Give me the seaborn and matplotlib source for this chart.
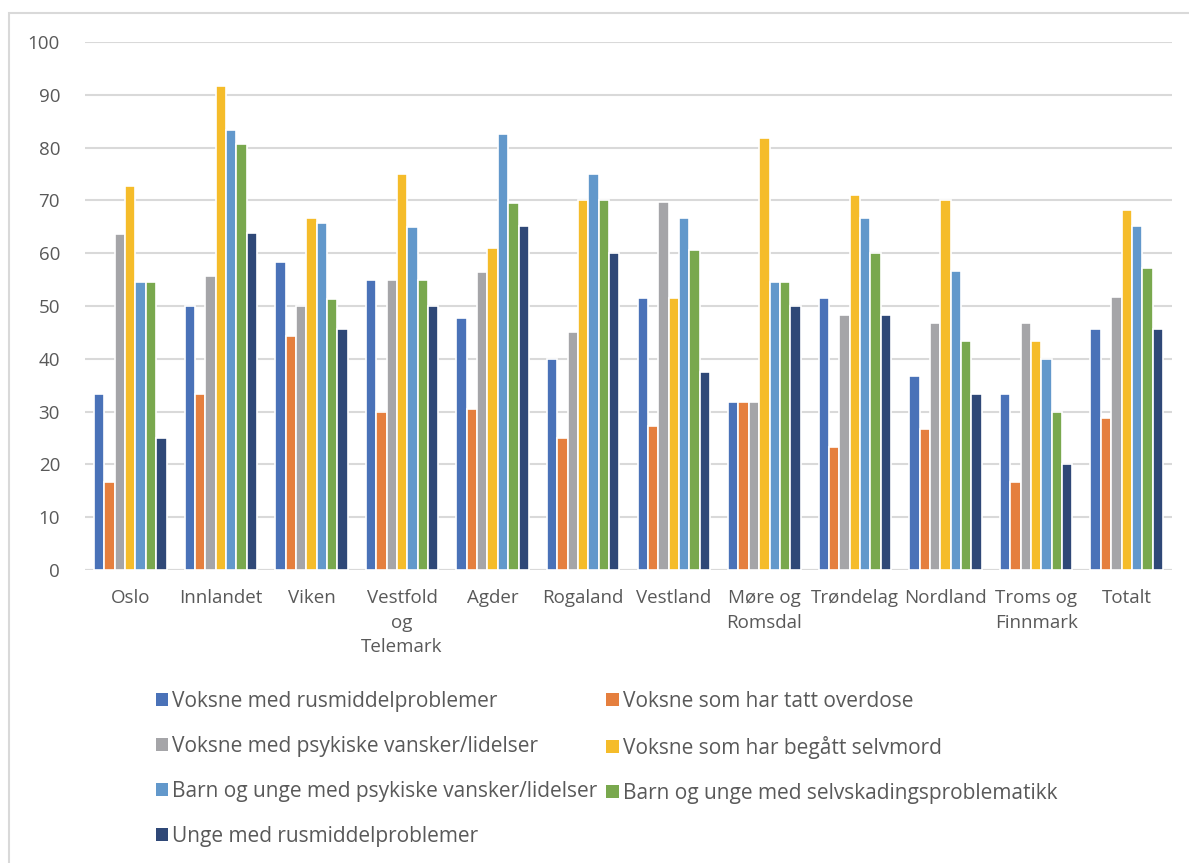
import numpy as np
import pandas as pd
import seaborn as sns
import matplotlib.pyplot as plt
from matplotlib.patches import Rectangle, Patch

regions = ["Oslo", "Innlandet", "Viken", "Vestfold\nog\nTelemark", "Agder",
           "Rogaland", "Vestland", "Møre og\nRomsdal", "Trøndelag", "Nordland",
           "Troms og\nFinnmark", "Totalt"]

series_names = [
    "Voksne med rusmiddelproblemer",
    "Voksne som har tatt overdose",
    "Voksne med psykiske vansker/lidelser",
    "Voksne som har begått selvmord",
    "Barn og unge med psykiske vansker/lidelser",
    "Barn og unge med selvskadingsproblematikk",
    "Unge med rusmiddelproblemer",
]

voksne_rus = [33.3, 50.0, 58.3, 55.0, 47.8, 40.0, 51.5, 31.8, 51.6, 36.7, 33.3, 45.7]
voksne_overdose = [16.7, 33.3, 44.4, 30.0, 30.4, 25.0, 27.2, 31.8, 23.3, 26.7, 16.7, 28.8]
voksne_psykiske = [63.6, 55.6, 50.0, 55.0, 56.5, 45.0, 69.7, 31.8, 48.3, 46.7, 46.7, 51.7]
voksne_selvmord = [72.7, 91.7, 66.7, 75.0, 60.9, 70.0, 51.5, 81.8, 71.0, 70.0, 43.3, 68.1]
barn_psykiske = [54.5, 83.3, 65.7, 65.0, 82.6, 75.0, 66.7, 54.5, 66.7, 56.7, 40.0, 65.2]
barn_selvskading = [54.5, 80.6, 51.4, 55.0, 69.6, 70.0, 60.6, 54.5, 60.0, 43.3, 30.0, 57.2]
unge_rus = [25.0, 63.9, 45.7, 50.0, 65.2, 60.0, 37.5, 50.0, 48.3, 33.3, 20.0, 45.7]

colors = ["#4A72B8", "#E57F3E", "#A5A5A8", "#F5BC2A", "#6298CB", "#79A84E", "#2F4877"]

all_values = [voksne_rus, voksne_overdose, voksne_psykiske, voksne_selvmord,
              barn_psykiske, barn_selvskading, unge_rus]

df = pd.DataFrame({
    "region": np.repeat([regions], len(series_names), axis=0).ravel(),
    "serie": np.repeat(series_names, len(regions)),
    "verdi": np.concatenate(all_values),
})

sns.set_theme(style="white")
plt.rcParams["font.family"] = ["Open Sans", "DejaVu Sans"]
text_color = "#595959"

fig = plt.figure(figsize=(11.89, 8.63), dpi=100)
ax = fig.add_axes([85 / 1189, 1 - 570 / 863, (1172 - 85) / 1189, (570 - 42) / 863])

sns.barplot(data=df, x="region", y="verdi", hue="serie", order=regions,
            hue_order=series_names, palette=colors, saturation=1, width=0.8,
            edgecolor="white", linewidth=1.2, ax=ax, legend=False, zorder=3)

ax.set_ylim(0, 100)
ax.set_xlim(-0.5, len(regions) - 0.5)
ax.set_yticks(np.arange(0, 101, 10))
ax.yaxis.grid(True, color="#D9D9D9", linewidth=1.5, zorder=0)
ax.set_axisbelow(True)
for s in ax.spines.values():
    s.set_visible(False)
ax.axhline(0, color="#D9D9D9", linewidth=1.5, zorder=2)
ax.set_xlabel("")
ax.set_ylabel("")
ax.tick_params(axis="both", length=0, labelsize=13.5, colors=text_color)
ax.tick_params(axis="y", pad=18)
ax.tick_params(axis="x", pad=14)
for lbl in ax.get_xticklabels():
    lbl.set_linespacing(1.45)

# legend laid out row by row in two columns
order = [0, 2, 4, 6, 1, 3, 5]
handles = [Patch(facecolor=colors[i], edgecolor="none") for i in order]
labels = [series_names[i] for i in order]
leg = fig.legend(handles, labels, ncol=2, loc="upper left",
                 bbox_to_anchor=(137 / 1189, 1 - 672 / 863), frameon=False,
                 fontsize=15, handlelength=0.6, handleheight=0.6,
                 handletextpad=0.2, columnspacing=0.4, labelspacing=1.15,
                 labelcolor=text_color)

# thin frame around the chart area
fig.patches.append(Rectangle((9 / 1189, -0.01), 1.2, 1 - 13 / 863 + 0.01,
                             transform=fig.transFigure, fill=False,
                             edgecolor="#D9D9D9", linewidth=1.5))

fig.savefig("out.png", dpi=100)
